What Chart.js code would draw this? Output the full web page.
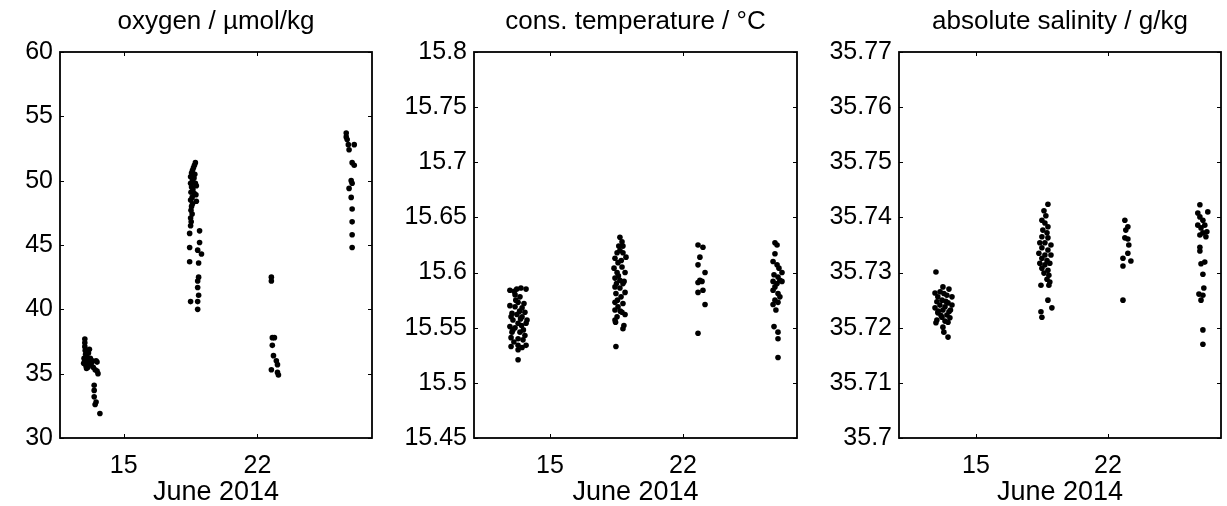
<!DOCTYPE html>
<html lang="en">
<head>
    <meta charset="UTF-8">
    <title>June 2014 profiles</title>
    <script src="https://cdn.jsdelivr.net/npm/chart.js@4.4.1/dist/chart.umd.min.js"></script>
    <style>
        body {
            margin: 0;
            background: #fff;
            width: 1227px;
            height: 506px;
            position: relative;
            overflow: hidden;
        }
        canvas {
            position: absolute;
            top: 0;
        }
    </style>
</head>
<body>
<canvas id="oxygen" width="400" height="506" style="left:0px"></canvas>
<canvas id="temperature" width="420" height="506" style="left:400px"></canvas>
<canvas id="salinity" width="407" height="506" style="left:820px"></canvas>

<script>
    // x axis: day of June 2014
    const dayTicks = [15, 22];
    const dayTickLabels = ['15', '22'];
    const xLabel = 'June 2014';

    // oxygen / µmol/kg
    const oxygenDay = [
        12.96, 12.96, 12.96, 12.98, 13.00, 12.92, 12.95, 13.05, 13.10, 13.15, 13.20, 13.25, 13.30, 13.35, 13.02, 13.12,
        13.22, 13.40, 13.55, 13.60, 13.50, 13.65, 13.60, 13.45, 13.45, 13.45, 13.55, 13.50, 13.75, 13.05, 12.90, 13.08,
        18.75, 18.70, 18.65, 18.60, 18.55, 18.72, 18.50, 18.68, 18.60, 18.50, 18.75, 18.80, 18.55, 18.62, 18.52, 18.70,
        18.78, 18.58, 18.50, 18.80, 18.60, 18.55, 18.52, 18.58, 18.50, 18.53, 18.50,
        18.97, 18.45, 18.97, 18.45, 18.87, 19.07, 18.45, 18.92, 18.92, 18.87, 18.87, 18.92, 18.50, 18.87, 18.87,
        22.73, 22.73, 22.78, 22.89, 22.78, 22.84, 22.99, 23.05, 22.73, 23.05, 23.10,
        26.65, 26.65, 26.70, 26.76, 27.07, 26.80, 26.96, 27.07, 26.91, 26.96, 26.80, 26.91, 26.96, 26.96, 26.96, 26.96
    ];
    const oxygenValue = [
        37.7, 37.4, 37.1, 36.8, 36.5, 36.2, 36.0, 36.3, 35.9, 36.6, 36.9, 36.2, 35.8, 36.0, 35.6, 35.5,
        35.7, 35.5, 36.0, 35.9, 35.3, 35.0, 35.2, 34.1, 33.7, 33.2, 32.8, 32.6, 31.9, 35.4, 35.8, 36.1,
        51.4, 51.2, 51.0, 50.8, 50.6, 50.5, 50.3, 50.2, 50.0, 49.8, 49.8, 49.6, 49.5, 49.3, 49.1, 49.0,
        48.9, 48.7, 48.5, 48.4, 48.2, 48.0, 47.7, 47.4, 47.1, 46.8, 46.5,
        46.1, 45.9, 45.2, 44.8, 44.6, 44.3, 43.7, 43.6, 42.5, 42.2, 41.7, 41.1, 40.6, 40.6, 40.0,
        42.5, 42.2, 37.8, 37.8, 37.2, 36.4, 36.0, 35.7, 35.3, 35.1, 34.9,
        53.7, 53.4, 53.2, 52.8, 52.8, 52.4, 51.4, 51.2, 50.0, 49.8, 49.4, 48.7, 47.8, 46.8, 45.8, 44.8
    ];
    const oxygenTicks = [30, 35, 40, 45, 50, 55, 60];
    const oxygenTickLabels = ['30', '35', '40', '45', '50', '55', '60'];

    // cons. temperature / °C
    const temperatureDay = [
        12.89, 13.11, 13.47, 13.74, 13.16, 13.42, 13.32, 13.63, 12.89, 13.16, 13.53, 13.68, 13.00, 13.26, 13.53, 13.79,
        13.05, 13.32, 13.74, 12.89, 13.16, 13.00, 13.42, 13.68, 12.95, 13.32, 13.58, 12.95, 13.32, 13.74, 13.53, 13.32,
        13.32, 13.20, 13.45, 13.05, 13.60, 13.10, 13.50, 12.95, 13.40, 13.25,
        18.68, 18.79, 18.84, 18.68, 18.53, 18.84, 19.00, 18.42, 18.58, 18.37, 18.79, 18.53, 18.95, 18.42, 18.68, 18.84,
        18.42, 18.68, 18.95, 18.47, 18.74, 18.42, 18.84, 18.58, 18.42, 18.79, 18.95, 18.53, 18.42, 18.89, 18.84, 18.47,
        18.60, 18.50, 18.75, 18.90, 18.55, 18.70, 18.45, 18.62,
        22.79, 23.05, 22.89, 22.79, 23.16, 22.89, 22.79, 23.00, 23.05, 22.79, 23.16, 22.79,
        26.84, 26.95, 26.84, 26.74, 26.95, 27.05, 27.21, 26.79, 27.00, 27.10, 26.74, 26.95, 27.21, 26.84, 26.74, 27.00,
        27.10, 26.84, 27.00, 26.74, 26.89, 26.79, 27.00, 27.00, 27.00
    ];
    const temperatureValue = [
        15.584, 15.583, 15.586, 15.585, 15.580, 15.578, 15.573, 15.572, 15.570, 15.569, 15.568, 15.564, 15.563, 15.562, 15.560, 15.557,
        15.557, 15.554, 15.554, 15.551, 15.550, 15.546, 15.546, 15.543, 15.541, 15.540, 15.539, 15.533, 15.534, 15.534, 15.532, 15.530,
        15.521, 15.575, 15.558, 15.548, 15.548, 15.537, 15.552, 15.560, 15.565, 15.585,
        15.632, 15.628, 15.624, 15.620, 15.618, 15.618, 15.614, 15.613, 15.609, 15.604, 15.605, 15.600, 15.600, 15.595, 15.593, 15.590,
        15.587, 15.586, 15.582, 15.581, 15.578, 15.573, 15.572, 15.569, 15.566, 15.564, 15.562, 15.560, 15.557, 15.552, 15.549, 15.533,
        15.597, 15.590, 15.611, 15.592, 15.575, 15.565, 15.555, 15.624,
        15.625, 15.623, 15.614, 15.607, 15.600, 15.593, 15.591, 15.592, 15.584, 15.582, 15.571, 15.545,
        15.627, 15.625, 15.617, 15.610, 15.607, 15.604, 15.600, 15.598, 15.596, 15.593, 15.592, 15.590, 15.592, 15.587, 15.584, 15.581,
        15.578, 15.575, 15.573, 15.571, 15.566, 15.551, 15.546, 15.540, 15.523
    ];
    const temperatureTicks = [15.45, 15.5, 15.55, 15.6, 15.65, 15.7, 15.75, 15.8];
    const temperatureTickLabels = ['15.45', '15.5', '15.55', '15.6', '15.65', '15.7', '15.75', '15.8'];

    // absolute salinity / g/kg
    const salinityDay = [
        12.88, 12.83, 13.25, 13.57, 12.98, 13.46, 13.73, 12.93, 13.20, 13.52, 13.09, 13.36, 13.73, 12.83, 13.25, 13.57,
        12.98, 13.46, 13.20, 13.62, 12.93, 13.36, 13.52, 12.88, 13.25, 13.30, 13.52, 13.10, 13.40, 13.00, 13.65, 13.15, 13.30,
        18.82, 18.61, 18.71, 18.50, 18.66, 18.82, 18.55, 18.77, 18.50, 18.82, 18.39, 18.66, 18.98, 18.50, 18.82, 18.34,
        18.66, 18.98, 18.50, 18.77, 18.39, 18.66, 18.92, 18.50, 18.82, 18.61, 18.87, 18.77, 18.92, 18.45, 18.87, 18.82,
        19.03, 18.45, 18.50,
        22.90, 23.06, 22.95, 22.90, 23.06, 23.11, 23.06, 22.80, 23.22, 22.80, 22.80,
        26.88, 27.30, 26.77, 26.88, 27.04, 26.77, 27.14, 26.94, 27.25, 27.04, 26.88, 27.20, 26.88, 26.88, 27.14, 26.94,
        27.04, 27.09, 26.83, 27.04, 26.94, 27.04, 27.04
    ];
    const salinityValue = [
        35.7301, 35.7263, 35.7274, 35.7270, 35.7256, 35.7259, 35.7256, 35.7247, 35.7250, 35.7245, 35.7241, 35.7238, 35.7241, 35.7236, 35.7232, 35.7229,
        35.7227, 35.7223, 35.7219, 35.7218, 35.7214, 35.7212, 35.7210, 35.7209, 35.7201, 35.7192, 35.7183, 35.7265, 35.7248, 35.7230, 35.7232, 35.7222, 35.7262,
        35.7424, 35.7412, 35.7403, 35.7395, 35.7390, 35.7383, 35.7377, 35.7372, 35.7365, 35.7363, 35.7354, 35.7354, 35.7350, 35.7345, 35.7341, 35.7335,
        35.7332, 35.7332, 35.7326, 35.7322, 35.7317, 35.7314, 35.7317, 35.7308, 35.7304, 35.7299, 35.7295, 35.7288, 35.7283, 35.7277, 35.7277, 35.7250,
        35.7236, 35.7229, 35.7219,
        35.7395, 35.7383, 35.7377, 35.7363, 35.7361, 35.7350, 35.7335, 35.7326, 35.7321, 35.7312, 35.7250,
        35.7423, 35.7410, 35.7408, 35.7401, 35.7395, 35.7386, 35.7386, 35.7381, 35.7374, 35.7372, 35.7368, 35.7365, 35.7346, 35.7339, 35.7319, 35.7316,
        35.7297, 35.7272, 35.7261, 35.7259, 35.7250, 35.7196, 35.7170
    ];
    const salinityTicks = [35.7, 35.71, 35.72, 35.73, 35.74, 35.75, 35.76, 35.77];
    const salinityTickLabels = ['35.7', '35.71', '35.72', '35.73', '35.74', '35.75', '35.76', '35.77'];

    const FAMILY = "'Liberation Sans', Arial, Helvetica, sans-serif";
    const TICK_FONT = { family: FAMILY, size: 25, weight: 'normal' };
    const TITLE_FONT = { family: FAMILY, size: 26, weight: 'normal', lineHeight: 1 };
    const LABEL_FONT = { family: FAMILY, size: 27, weight: 'normal', lineHeight: 1 };

    // matlab style box with ticks pointing inward on all four sides
    const boxPlugin = {
        id: 'boxPlugin',
        afterDatasetsDraw(chart) {
            const { ctx, chartArea: a, scales } = chart;
            const len = 4;
            ctx.save();
            ctx.strokeStyle = '#000';
            ctx.lineWidth = 1;
            ctx.beginPath();
            scales.x.ticks.forEach(t => {
                const px = Math.round(scales.x.getPixelForValue(t.value)) + 0.5;
                ctx.moveTo(px, a.bottom); ctx.lineTo(px, a.bottom - len);
                ctx.moveTo(px, a.top); ctx.lineTo(px, a.top + len);
            });
            scales.y.ticks.forEach(t => {
                const py = Math.round(scales.y.getPixelForValue(t.value)) + 0.5;
                ctx.moveTo(a.left, py); ctx.lineTo(a.left + len, py);
                ctx.moveTo(a.right, py); ctx.lineTo(a.right - len, py);
            });
            ctx.stroke();
            ctx.lineWidth = 1.8;
            ctx.strokeRect(a.left, a.top, a.right - a.left, a.bottom - a.top);
            ctx.restore();
        }
    };

    function makePanel(id, title, days, values, xMin, yTicks, yLabels, axisWidth, padRight) {
        const points = days.map((d, i) => ({ x: d, y: values[i] }));
        new Chart(document.getElementById(id), {
            type: 'scatter',
            data: {
                datasets: [{
                    data: points,
                    backgroundColor: '#000',
                    borderWidth: 0,
                    pointRadius: 2.8,
                    pointHoverRadius: 2.8
                }]
            },
            options: {
                responsive: false,
                animation: false,
                layout: { padding: { left: 0, right: padRight, top: 0, bottom: 0 } },
                plugins: {
                    legend: { display: false },
                    tooltip: { enabled: false },
                    title: {
                        display: true,
                        text: title,
                        color: '#000',
                        fullSize: false,
                        font: TITLE_FONT,
                        padding: { top: 9, bottom: 17 }
                    }
                },
                scales: {
                    x: {
                        type: 'linear',
                        min: xMin,
                        max: 28,
                        grid: { display: false, drawTicks: false },
                        border: { display: false },
                        afterBuildTicks: s => { s.ticks = dayTicks.map(v => ({ value: v })); },
                        afterFit: s => { s.height = 68; },
                        ticks: {
                            color: '#000',
                            font: TICK_FONT,
                            padding: 13,
                            maxRotation: 0,
                            autoSkip: false,
                            callback: (v, i) => dayTickLabels[i]
                        },
                        title: {
                            display: true,
                            text: xLabel,
                            color: '#000',
                            font: LABEL_FONT,
                            padding: { top: 0, bottom: 0 }
                        }
                    },
                    y: {
                        min: yTicks[0],
                        max: yTicks[yTicks.length - 1],
                        grid: { display: false, drawTicks: false },
                        border: { display: false },
                        afterBuildTicks: s => { s.ticks = yTicks.map(v => ({ value: v })); },
                        afterFit: s => { s.width = axisWidth; },
                        ticks: {
                            color: '#000',
                            font: TICK_FONT,
                            padding: 7,
                            autoSkip: false,
                            callback: (v, i) => yLabels[i]
                        }
                    }
                }
            },
            plugins: [boxPlugin]
        });
    }

    makePanel('oxygen', 'oxygen / µmol/kg', oxygenDay, oxygenValue, 11.66,
        oxygenTicks, oxygenTickLabels, 60, 28);
    makePanel('temperature', 'cons. temperature / °C', temperatureDay, temperatureValue, 11.0,
        temperatureTicks, temperatureTickLabels, 74, 23);
    makePanel('salinity', 'absolute salinity / g/kg', salinityDay, salinityValue, 10.92,
        salinityTicks, salinityTickLabels, 79, 6);
</script>
</body>
</html>
